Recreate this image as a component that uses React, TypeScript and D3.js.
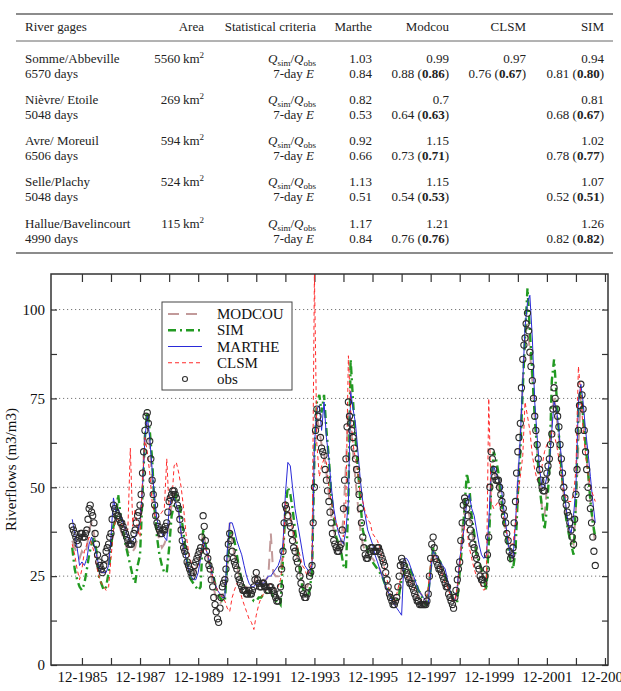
import React, { useEffect, useRef } from 'react';
import * as d3 from 'd3';

// ---------- table values ----------
const gages = ['Somme/Abbeville', 'Nièvre/ Etoile', 'Avre/ Moreuil', 'Selle/Plachy', 'Hallue/Bavelincourt'];
const gageDays = [6570, 5048, 6506, 5048, 4990];
const gageAreas = [5560, 269, 594, 524, 115];
const modelNames = ['Marthe', 'Modcou', 'CLSM', 'SIM'];
const ratioMarthe = ['1.03', '0.82', '0.92', '1.13', '1.17'];
const ratioModcou = ['0.99', '0.7', '1.15', '1.15', '1.21'];
const ratioClsm = ['0.97', null, null, null, null];
const ratioSim = ['0.94', '0.81', '1.02', '1.07', '1.26'];
const effMarthe = ['0.84', '0.53', '0.66', '0.51', '0.84'];
const effModcou = ['0.88', '0.64', '0.73', '0.54', '0.76'];
const effModcouBold = ['0.86', '0.63', '0.71', '0.53', '0.76'];
const effClsm = ['0.76', null, null, null, null];
const effClsmBold = ['0.67', null, null, null, null];
const effSim = ['0.81', '0.68', '0.78', '0.52', '0.82'];
const effSimBold = ['0.80', '0.67', '0.77', '0.51', '0.82'];

// ---------- river flows, Aug 1985 -> Aug 2003 ----------
// simulations and obs: first day of each month
const firstMonth = new Date(1985, 7, 1);
const obs = [
  39, 37, 35, 36, 37,
  36, 38, 44, 43, 40, 34, 29, 27, 28, 32, 34, 37,
  45, 43, 42, 40, 39, 37, 35, 34, 35, 38, 42, 45,
  54, 66, 71, 63, 52, 45, 40, 38, 37, 38, 40, 46,
  48, 49, 47, 44, 38, 33, 31, 28, 26, 26, 29, 31,
  33, 42, 35, 30, 27, 22, 17, 13, 16, 22, 24, 30,
  37, 32, 29, 27, 24, 22, 21, 20, 21, 20, 22, 26,
  23, 22, 23, 22, 21, 22, 21, 19, 18, 22, 32, 45,
  42, 39, 35, 32, 29, 25, 21, 19, 20, 25, 28, 50,
  72, 68, 61, 59, 52, 46, 40, 35, 33, 32, 34, 44,
  58, 74, 68, 64, 58, 52, 44, 36, 31, 30, 32, 33,
  32, 33, 32, 30, 28, 24, 20, 18, 17, 19, 25, 30,
  28, 26, 24, 23, 21, 19, 18, 17, 17, 17, 20, 30,
  36, 30, 28, 27, 25, 23, 22, 19, 17, 19, 24, 29,
  40, 47, 44, 40, 36, 33, 30, 27, 24, 23, 27, 36,
  60, 55, 52, 52, 48, 44, 40, 35, 30, 33, 46, 60,
  68, 86, 92, 99, 88, 80, 70, 62, 55, 50, 49, 54,
  58, 65, 78, 72, 67, 58, 50, 45, 42, 38, 34, 48,
  66, 79, 72, 60, 50, 44, 36, 28,
];
// obs: 15th of each month, Aug 1985 -> Jul 2003
const obsMid = [
  38, 36, 34, 37, 36,
  37, 41, 45, 42, 37, 31, 28, 26, 30, 33, 36, 41,
  44, 42, 41, 40, 38, 36, 34, 34, 37, 40, 43, 48,
  60, 70, 68, 58, 48, 42, 39, 37, 38, 39, 43, 47,
  49, 48, 45, 41, 35, 32, 29, 27, 25, 28, 30, 32,
  36, 39, 32, 28, 24, 19, 15, 12, 19, 23, 27, 34,
  35, 30, 28, 25, 23, 21, 21, 20, 20, 21, 24, 24,
  22, 23, 22, 21, 22, 21, 20, 18, 20, 27, 40, 44,
  40, 37, 33, 30, 27, 23, 20, 19, 22, 26, 40, 66,
  70, 64, 60, 55, 49, 43, 37, 34, 32, 33, 38, 52,
  67, 70, 66, 61, 55, 48, 40, 33, 30, 31, 33, 32,
  32, 33, 31, 29, 26, 22, 19, 17, 18, 22, 28, 29,
  27, 25, 23, 22, 20, 18, 17, 17, 17, 18, 25, 34,
  33, 29, 27, 26, 24, 22, 20, 18, 16, 21, 27, 35,
  45, 46, 42, 38, 34, 31, 28, 25, 24, 25, 31, 50,
  58, 53, 52, 50, 46, 42, 37, 32, 31, 40, 54, 64,
  78, 90, 96, 94, 84, 75, 66, 58, 52, 49, 52, 56,
  62, 72, 75, 70, 62, 54, 47, 43, 40, 36, 41, 55,
  73, 76, 66, 55, 47, 40, 32,
];
const marthe = [
  41, 37, 33, 28, 29,
  28, 30, 34, 36, 34, 31, 28, 26, 26, 26, 28, 36,
  47, 43, 44, 42, 40, 38, 36, 34, 35, 36, 38, 40,
  50, 64, 70, 64, 55, 47, 41, 38, 37, 36, 35, 44,
  47, 47, 45, 43, 37, 33, 30, 27, 25, 24, 24, 26,
  30, 35, 33, 31, 28, 25, 23, 21, 20, 19, 19, 32,
  40, 40, 38, 35, 33, 31, 28, 25, 23, 22, 22, 23,
  23, 23, 23, 24, 25, 25, 26, 27, 28, 30, 34, 48,
  57, 56, 50, 44, 40, 36, 32, 28, 27, 26, 28, 62,
  72, 73, 66, 74, 64, 58, 50, 44, 40, 37, 35, 34,
  38, 46, 77, 72, 68, 60, 52, 46, 42, 38, 36, 34,
  31, 29, 27, 25, 23, 21, 20, 18, 17, 16, 15, 14,
  30, 30, 29, 27, 25, 23, 21, 20, 19, 18, 17, 26,
  32, 31, 30, 29, 28, 27, 24, 21, 19, 18, 22, 30,
  34, 40, 46, 48, 44, 42, 38, 34, 31, 30, 31, 40,
  54, 56, 54, 52, 51, 45, 40, 34, 31, 30, 40, 52,
  64, 80, 95, 102, 104, 92, 74, 64, 55, 50, 50, 53,
  57, 66, 74, 72, 66, 58, 50, 44, 39, 37, 42, 50,
  74, 79, 74, 66, 60, 53, 46, 40,
];
const sim = [
  33, 27, 24, 22, 21,
  23, 27, 31, 34, 36, 32, 25, 23, 21, 22, 26, 33,
  39, 41, 48, 42, 38, 34, 31, 28, 25, 23, 28, 31,
  48, 64, 72, 66, 58, 44, 36, 31, 28, 26, 26, 33,
  42, 45, 48, 46, 42, 37, 31, 27, 24, 23, 22, 21,
  22, 38, 34, 31, 28, 26, 23, 20, 19, 18, 18, 28,
  38, 37, 35, 31, 27, 24, 22, 21, 20, 19, 18, 18,
  19, 19, 20, 20, 21, 21, 19, 18, 18, 17, 30, 44,
  50, 48, 44, 38, 33, 27, 22, 20, 19, 21, 26, 60,
  74, 76, 71, 76, 66, 58, 48, 42, 36, 34, 32, 28,
  27, 46, 86, 74, 64, 55, 46, 38, 35, 32, 30, 29,
  28, 27, 26, 25, 23, 22, 20, 19, 18, 18, 20, 24,
  26, 28, 28, 26, 25, 23, 21, 20, 18, 17, 20, 27,
  33, 31, 30, 29, 27, 25, 23, 21, 19, 18, 18, 26,
  34, 45, 54, 50, 42, 37, 31, 29, 27, 24, 21, 34,
  50, 60, 58, 54, 48, 42, 37, 33, 29, 27, 32, 48,
  60, 78, 92, 106, 94, 82, 70, 60, 50, 44, 38, 44,
  55, 80, 86, 76, 65, 55, 48, 41, 37, 34, 31, 46,
  74, 77, 70, 62, 55, 46, 40, 36,
];
const clsm = [
  34, 31, 27, 24, 27,
  32, 34, 36, 34, 32, 28, 25, 23, 22, 21, 22, 30,
  38, 41, 41, 40, 39, 38, 38, 61, 39, 44, 38, 36,
  52, 64, 60, 54, 46, 42, 41, 42, 43, 44, 58, 44,
  45, 56, 57, 54, 50, 44, 37, 32, 29, 27, 27, 28,
  31, 34, 33, 31, 28, 25, 23, 21, 20, 19, 18, 16,
  15, 19, 21, 23, 22, 19, 17, 15, 13, 12, 10, 14,
  17, 19, 20, 21, 22, 23, 22, 21, 22, 24, 30, 46,
  44, 42, 38, 36, 33, 31, 28, 27, 25, 27, 29, 110,
  62, 53, 56, 58, 57, 50, 46, 42, 40, 38, 37, 36,
  46, 87, 72, 62, 58, 54, 48, 46, 43, 41, 40, 37,
  36, 35, 33, 30, 27, 24, 21, 19, 18, 20, 23, 25,
  26, 25, 24, 23, 22, 20, 19, 18, 17, 18, 22, 29,
  31, 30, 29, 27, 25, 23, 22, 20, 18, 18, 22, 28,
  36, 39, 38, 33, 30, 27, 25, 24, 22, 21, 22, 75,
  46, 44, 45, 46, 44, 42, 38, 36, 34, 34, 40, 48,
  53, 59, 74, 70, 66, 59, 55, 52, 54, 56, 60, 62,
  63, 66, 65, 62, 58, 53, 48, 47, 46, 46, 48, 55,
  84, 76, 66, 59, 54, 50, 48, 46,
];
const modcou = [
  35, 33, 31, 30, 32,
  31, 33, 38, 40, 37, 32, 28, 26, 26, 28, 30, 33,
  40, 41, 40, 38, 36, 34, 32, 31, 32, 33, 36, 40,
  50, 66, 68, 62, 52, 44, 38, 35, 33, 34, 36, 40,
  45, 48, 47, 43, 37, 32, 29, 26, 25, 25, 27, 29,
  31, 38, 34, 30, 27, 23, 20, 18, 17, 19, 22, 28,
  40, 35, 31, 28, 25, 23, 22, 22, 21, 22, 23, 25,
  23, 23, 24, 24, 25, 37, 26, 25, 25, 27, 32, 44,
  45, 42, 38, 34, 30, 26, 23, 22, 22, 24, 28, 58,
  70, 66, 62, 60, 54, 48, 42, 38, 35, 34, 34, 42,
  56, 72, 68, 60, 52, 45, 38, 34, 32, 31, 30, 30,
  29, 28, 27, 25, 23, 21, 19, 18, 17, 18, 21, 28,
  28, 27, 26, 25, 24, 23, 21, 20, 19, 18, 20, 28,
  33, 31, 29, 28, 26, 24, 22, 20, 19, 18, 21, 28,
  38, 44, 45, 42, 38, 34, 31, 28, 26, 24, 24, 34,
  55, 55, 52, 50, 47, 43, 38, 34, 31, 30, 38, 52,
  64, 80, 92, 96, 88, 80, 70, 60, 52, 44, 42, 50,
  56, 68, 76, 70, 64, 56, 48, 42, 38, 35, 34, 44,
  62, 76, 70, 62, 54, 46, 40, 34,
];
const yTickValues = [0, 12.5, 25, 37.5, 50, 62.5, 75, 87.5, 100];
const yLabelled = [0, 25, 50, 75, 100];
const gridValues = [25, 50, 75, 100];
const tickYears = d3.range(1985, 2004);

const FONT = "'Liberation Serif', 'Times New Roman', serif";

export default function App() {
  const svgRef = useRef<SVGSVGElement>(null);

  useEffect(() => {
    const svg = d3.select(svgRef.current);
    svg.selectAll('*').remove();

    // ================= table =================
    const tbl = svg.append('g').attr('font-family', FONT).attr('font-size', 13).attr('fill', '#222');
    const rule = (yy: number, w: number) =>
      tbl.append('line').attr('x1', 16).attr('x2', 613).attr('y1', yy).attr('y2', yy)
        .attr('stroke', '#666').attr('stroke-width', w);
    rule(14, 1.6);
    rule(41, 1);
    rule(253, 1.6);

    const colX = [372, 449, 526, 604];
    const headY = 31;
    tbl.append('text').attr('x', 25).attr('y', headY).text('River gages');
    tbl.append('text').attr('x', 204).attr('y', headY).attr('text-anchor', 'end').text('Area');
    tbl.append('text').attr('x', 316).attr('y', headY).attr('text-anchor', 'end').text('Statistical criteria');
    modelNames.forEach((m, j) =>
      tbl.append('text').attr('x', colX[j]).attr('y', headY).attr('text-anchor', 'end').text(m));

    const ratios = [ratioMarthe, ratioModcou, ratioClsm, ratioSim];
    const effs = [effMarthe, effModcou, effClsm, effSim];
    const effsBold = [null, effModcouBold, effClsmBold, effSimBold];

    gages.forEach((name, k) => {
      const y1 = 62.5 + k * 41.25;
      const y2 = y1 + 15;
      tbl.append('text').attr('x', 25).attr('y', y1).text(name);
      tbl.append('text').attr('x', 25).attr('y', y2).text(`${gageDays[k]} days`);
      const area = tbl.append('text').attr('x', 204).attr('y', y1).attr('text-anchor', 'end');
      area.append('tspan').text(`${gageAreas[k]}\u2009km`);
      area.append('tspan').attr('dy', -5).attr('font-size', 9).text('2');

      const q = tbl.append('text').attr('x', 316).attr('y', y1).attr('text-anchor', 'end');
      q.append('tspan').attr('font-style', 'italic').text('Q');
      q.append('tspan').attr('font-size', 9).attr('dy', 3).text('sim');
      q.append('tspan').attr('dy', -3).text('/');
      q.append('tspan').attr('font-style', 'italic').text('Q');
      q.append('tspan').attr('font-size', 9).attr('dy', 3).text('obs');

      const e = tbl.append('text').attr('x', 314).attr('y', y2).attr('text-anchor', 'end');
      e.append('tspan').text('7-day ');
      e.append('tspan').attr('font-style', 'italic').text('E');

      colX.forEach((cx, j) => {
        const r = ratios[j][k];
        if (r) tbl.append('text').attr('x', cx).attr('y', y1).attr('text-anchor', 'end').text(r);
        const ev = effs[j][k];
        if (ev) {
          const t = tbl.append('text').attr('x', cx).attr('y', y2).attr('text-anchor', 'end');
          const b = effsBold[j] ? effsBold[j]![k] : null;
          if (b) {
            t.append('tspan').text(`${ev} (`);
            t.append('tspan').attr('font-weight', 'bold').text(b);
            t.append('tspan').text(')');
          } else {
            t.text(ev);
          }
        }
      });
    });

    // ================= chart =================
    const left = 51, right = 608, top = 274, bottom = 665;
    const x = d3.scaleTime().domain([new Date(1984, 10, 7), new Date(2004, 0, 8)]).range([left, right]);
    const y = d3.scaleLinear().domain([0, 110]).range([bottom, top]);
    const dates = obs.map((_, i) => d3.timeMonth.offset(firstMonth, i));
    const midDates = obsMid.map((_, i) => d3.timeDay.offset(dates[i], 14));
    const obsPoints = [
      ...obs.map((v, i) => ({ date: dates[i], v })),
      ...obsMid.map((v, i) => ({ date: midDates[i], v })),
    ];
    const decTicks = tickYears.map(yr => new Date(yr, 11, 1));

    const chart = svg.append('g').attr('font-family', FONT).attr('font-size', 15);

    chart.append('defs').append('clipPath').attr('id', 'plotclip')
      .append('rect').attr('x', left).attr('y', top).attr('width', right - left).attr('height', bottom - top);

    chart.append('g').selectAll('line').data(gridValues).join('line')
      .attr('x1', left).attr('x2', right).attr('y1', d => y(d)).attr('y2', d => y(d))
      .attr('stroke', '#777').attr('stroke-width', 1).attr('stroke-dasharray', '1.2 2.8');

    const styleAxis = (g: any) => {
      g.select('.domain').remove();
      g.selectAll('.tick line').attr('stroke', '#333').attr('stroke-width', 1.2);
      g.selectAll('.tick text').attr('fill', '#111').attr('font-family', FONT).attr('font-size', 15);
    };

    chart.append('g').attr('transform', `translate(0,${bottom})`)
      .call(d3.axisBottom(x).tickValues(decTicks).tickSize(-7).tickPadding(6)
        .tickFormat((d: any) => (d.getFullYear() % 2 === 1 ? `12-${d.getFullYear()}` : '')))
      .call(styleAxis);
    chart.append('g').attr('transform', `translate(0,${top})`)
      .call(d3.axisTop(x).tickValues(decTicks).tickSize(-8).tickFormat(() => ''))
      .call(styleAxis);
    chart.append('g').attr('transform', `translate(${left},0)`)
      .call(d3.axisLeft(y).tickValues(yTickValues).tickSize(-6).tickPadding(6)
        .tickFormat((d: any) => (yLabelled.includes(d) ? String(d) : '')))
      .call(styleAxis);
    chart.append('g').attr('transform', `translate(${right},0)`)
      .call(d3.axisRight(y).tickValues(yTickValues).tickSize(-6).tickFormat(() => ''))
      .call(styleAxis);

    const line = d3.line<number>().x((_, i) => x(dates[i])).y(d => y(d));
    const series = [
      { name: 'MODCOU', values: modcou, color: '#c29a9a', width: 2, dash: '11 7' },
      { name: 'SIM', values: sim, color: '#229a22', width: 2.4, dash: '8 4 2 4' },
      { name: 'MARTHE', values: marthe, color: '#2a2ad8', width: 1, dash: null },
      { name: 'CLSM', values: clsm, color: '#ff2a2a', width: 1, dash: '4 3' },
    ];
    const plot = chart.append('g').attr('clip-path', 'url(#plotclip)');
    series.forEach(s => {
      plot.append('path').datum(s.values).attr('d', line)
        .attr('fill', 'none').attr('stroke', s.color).attr('stroke-width', s.width)
        .attr('stroke-dasharray', s.dash);
    });
    plot.append('g').selectAll('circle').data(obsPoints).join('circle')
      .attr('cx', d => x(d.date)).attr('cy', d => y(d.v)).attr('r', 3.1)
      .attr('fill', 'none').attr('stroke', '#2a2a2a').attr('stroke-width', 1.1);

    // frame
    chart.append('rect').attr('x', left).attr('y', top).attr('width', right - left).attr('height', bottom - top)
      .attr('fill', 'none').attr('stroke', '#333').attr('stroke-width', 1.5);

    // y label
    chart.append('text').attr('transform', `translate(16,${(top + bottom) / 2}) rotate(-90)`)
      .attr('text-anchor', 'middle').attr('fill', '#111').text('Riverflows (m3/m3)');

    // legend
    const lg = chart.append('g');
    lg.append('rect').attr('x', 162).attr('y', 302).attr('width', 130).attr('height', 88)
      .attr('fill', 'white').attr('stroke', '#444').attr('stroke-width', 1);
    const entries = [...series.map(s => s.name), 'obs'];
    entries.forEach((name, k) => {
      const cy = 314 + k * 16.25;
      const s = series[k];
      if (s) {
        lg.append('line').attr('x1', 168).attr('x2', 202).attr('y1', cy).attr('y2', cy)
          .attr('stroke', s.color).attr('stroke-width', s.width).attr('stroke-dasharray', s.dash);
      } else {
        lg.append('circle').attr('cx', 185).attr('cy', cy).attr('r', 2.5)
          .attr('fill', 'none').attr('stroke', '#333').attr('stroke-width', 1.1);
      }
      lg.append('text').attr('x', 217).attr('y', cy + 5).attr('fill', '#111').text(name);
    });
  }, []);

  return (
    <div style={{ position: 'absolute', left: 0, top: 0 }}>
      <svg ref={svgRef} width={621} height={691} style={{ display: 'block', background: 'white' }} />
    </div>
  );
}
